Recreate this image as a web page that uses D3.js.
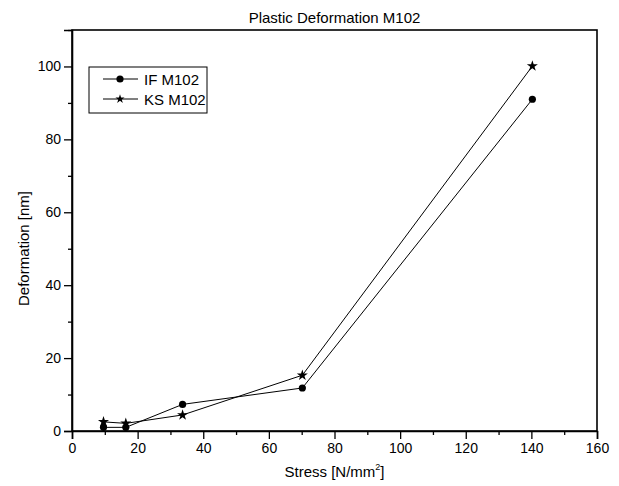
<!DOCTYPE html>
<html><head><meta charset="utf-8">
<script src="https://cdn.jsdelivr.net/npm/d3@7"></script>
<style>body{margin:0;background:#fff}text{font-family:"Liberation Sans",Arial,sans-serif;fill:#000}</style>
</head><body><svg id="c" width="619" height="486"></svg>
<script>
const seriesNames = ["IF M102", "KS M102"];
const stressIF = [9.6, 16.4, 33.7, 70.2, 140.3];
const deformIF = [1.0, 1.0, 7.3, 11.8, 91.0];
const stressKS = [9.6, 16.4, 33.7, 70.2, 140.3];
const deformKS = [2.5, 2.1, 4.4, 15.3, 100.1];
const xTicks = [0, 20, 40, 60, 80, 100, 120, 140, 160];
const yTicks = [0, 20, 40, 60, 80, 100];

const svg = d3.select("#c");
const L = 72, R = 597, T = 30, B = 431;
const x = d3.scaleLinear().domain([0, 160]).range([L, R]);
const y = d3.scaleLinear().domain([0, 110]).range([B, T]);

// frame
svg.append("rect").attr("x", L).attr("y", T).attr("width", R - L).attr("height", B - T)
  .attr("fill", "none").attr("stroke", "#000").attr("stroke-width", 1.6);

// axes
svg.append("g").attr("transform", `translate(0,${B})`)
  .call(d3.axisBottom(x).tickValues(xTicks).tickSize(8).tickPadding(4).tickFormat(d3.format("d")));
svg.append("g").attr("transform", `translate(0,${B})`)
  .call(d3.axisBottom(x).tickValues(d3.range(10, 160, 20)).tickSize(4).tickFormat(""))
  .call(g => g.select(".domain").remove());
svg.append("g").attr("transform", `translate(${L},0)`)
  .call(d3.axisLeft(y).tickValues(yTicks).tickSize(8).tickPadding(3).tickFormat(d3.format("d")));
svg.append("g").attr("transform", `translate(${L},0)`)
  .call(d3.axisLeft(y).tickValues(d3.range(10, 111, 20)).tickSize(4).tickFormat(""))
  .call(g => g.select(".domain").remove());
svg.selectAll(".domain").attr("stroke-width", 1.6);
svg.selectAll(".tick line").attr("stroke-width", 1.3);
svg.selectAll(".tick text").style("font-size", "14px").style("font-family", '"Liberation Sans",Arial,sans-serif').attr("fill", "#000");

// title and labels
svg.append("text").attr("x", (L + R) / 2).attr("y", 23).attr("text-anchor", "middle")
  .style("font-size", "15px").text("Plastic Deformation M102");
const xl = svg.append("text").attr("x", (L + R) / 2).attr("y", 477).attr("text-anchor", "middle").style("font-size", "15px");
xl.append("tspan").text("Stress [N/mm");
xl.append("tspan").attr("dy", -7).style("font-size", "9px").text("2");
xl.append("tspan").attr("dy", 7).text("]");
svg.append("text").attr("transform", `translate(29,${(T + B) / 2 + 18}) rotate(-90)`).attr("text-anchor", "middle")
  .style("font-size", "15px").text("Deformation [nm]");

const line = d3.line().x(d => x(d[0])).y(d => y(d[1]));
const ifData = stressIF.map((s, i) => [s, deformIF[i]]);
const ksData = stressKS.map((s, i) => [s, deformKS[i]]);
const star = d3.symbol().type(d3.symbolStar).size(38);

[ifData, ksData].forEach(d => svg.append("path").attr("d", line(d)).attr("fill", "none").attr("stroke", "#000").attr("stroke-width", 1));
svg.selectAll(".pIF").data(ifData).enter().append("circle").attr("cx", d => x(d[0])).attr("cy", d => y(d[1])).attr("r", 3.6).attr("fill", "#000");
svg.selectAll(".pKS").data(ksData).enter().append("path").attr("d", star).attr("transform", d => `translate(${x(d[0])},${y(d[1])})`).attr("fill", "#000");

// legend
svg.append("rect").attr("x", 89).attr("y", 67).attr("width", 118).attr("height", 46).attr("fill", "#fff").attr("stroke", "#000").attr("stroke-width", 1);
seriesNames.forEach((n, i) => {
  const yy = 79 + i * 20;
  svg.append("line").attr("x1", 103).attr("x2", 138).attr("y1", yy).attr("y2", yy).attr("stroke", "#000");
  if (i === 0) svg.append("circle").attr("cx", 120).attr("cy", yy).attr("r", 3.6).attr("fill", "#000");
  else svg.append("path").attr("d", d3.symbol().type(d3.symbolStar).size(26)).attr("transform", `translate(120,${yy})`).attr("fill", "#000");
  svg.append("text").attr("x", 144).attr("y", yy + 5.5).style("font-size", "15px").text(n);
});
</script></body></html>
